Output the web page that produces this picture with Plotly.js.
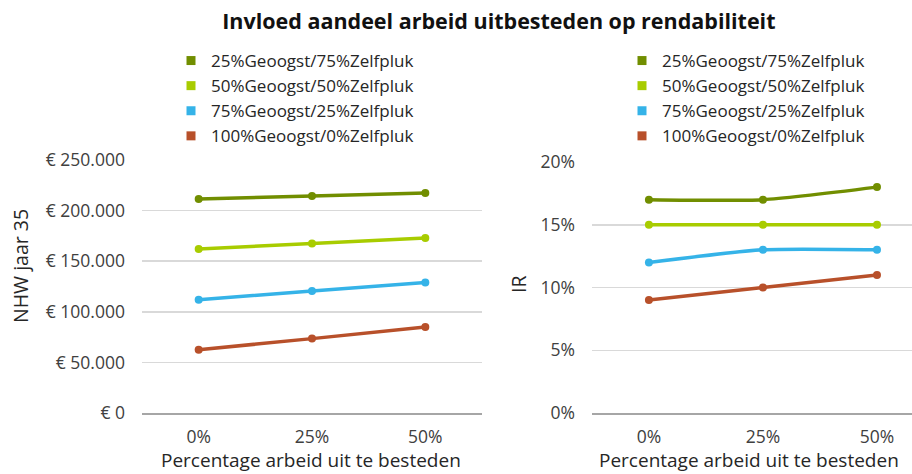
<!DOCTYPE html>
<html><head><meta charset="utf-8">
<script src="https://cdn.plot.ly/plotly-3.0.1.min.js"></script>
<style>body{margin:0;background:#fff}#c{width:912px;height:474px}</style>
</head><body><div id="c"></div>
<script>
const categories = ['0%', '25%', '50%'];
const seriesNames = ['25%Geoogst/75%Zelfpluk', '50%Geoogst/50%Zelfpluk', '75%Geoogst/25%Zelfpluk', '100%Geoogst/0%Zelfpluk'];
const colors = ['#718e00', '#a8cc00', '#35b3e8', '#b8502a'];
const nhw25 = [211500, 214500, 217500];
const nhw50 = [162000, 167500, 173000];
const nhw75 = [112000, 120500, 129000];
const nhw100 = [62500, 73500, 85000];
const ir25 = [0.17, 0.17, 0.18];
const ir50 = [0.15, 0.15, 0.15];
const ir75 = [0.12, 0.13, 0.13];
const ir100 = [0.09, 0.10, 0.11];
const nhwTickVals = [0, 50000, 100000, 150000, 200000, 250000];
const nhwTickText = ['€ 0', '€ 50.000', '€ 100.000', '€ 150.000', '€ 200.000', '€ 250.000'];
const irTickVals = [0, 0.05, 0.10, 0.15, 0.20];
const irTickText = ['0%', '5%', '10%', '15%', '20%'];
const title = 'Invloed aandeel arbeid uitbesteden op rendabiliteit';
const xTitle = 'Percentage arbeid uit te besteden';
const yTitleLeft = 'NHW jaar 35';
const yTitleRight = 'IR';

const nhw = [nhw25, nhw50, nhw75, nhw100];
const ir = [ir25, ir50, ir75, ir100];
const FONT = 'Open Sans, sans-serif';
const traces = [];
nhw.forEach((v, i) => traces.push({x: categories, y: v, xaxis: 'x', yaxis: 'y', mode: 'lines+markers',
  line: {color: colors[i], width: 3.5, shape: 'spline', smoothing: 0.6}, marker: {color: colors[i], size: 8}, showlegend: false, hoverinfo: 'y'}));
ir.forEach((v, i) => traces.push({x: categories, y: v, xaxis: 'x2', yaxis: 'y2', mode: 'lines+markers',
  line: {color: colors[i], width: 3.5, shape: 'spline', smoothing: 0.6}, marker: {color: colors[i], size: 8}, showlegend: false, hoverinfo: 'y'}));
seriesNames.forEach((n, i) => {
  traces.push({x: [null], y: [null], xaxis: 'x', yaxis: 'y', name: n, mode: 'markers', legend: 'legend',
    marker: {symbol: 'square', color: colors[i], size: 9}});
  traces.push({x: [null], y: [null], xaxis: 'x2', yaxis: 'y2', name: n, mode: 'markers', legend: 'legend2',
    marker: {symbol: 'square', color: colors[i], size: 9}});
});

const axFont = {family: FONT, size: 17.5, color: '#404040'};
const xax = (dom) => ({domain: dom, type: 'category', range: [-0.5, 2.5], showgrid: false, showline: true,
  linecolor: '#a6a6a6', linewidth: 1.5, tickfont: axFont, ticks: '', ticklabelstandoff: 7, fixedrange: true});
const legFont = {family: FONT, size: 17, color: '#262626'};
const layout = {
  width: 912, height: 474, margin: {l: 0, r: 0, t: 160, b: 61},
  paper_bgcolor: '#fff', plot_bgcolor: '#fff',
  title: {text: '<b>' + title + '</b>', x: 0.547, xanchor: 'center', y: 0.955, yanchor: 'middle', font: {family: FONT, size: 21.5, color: '#111'}},
  xaxis: xax([0.1557, 0.5285]),
  xaxis2: Object.assign(xax([0.649, 1]), {range: [-0.5, 2.307]}),
  yaxis: {domain: [0, 1], range: [0, 250000], tickvals: nhwTickVals, ticktext: nhwTickText, tickfont: axFont,
    showgrid: true, gridcolor: '#d9d9d9', gridwidth: 1.5, zeroline: false, ticks: '', ticklabelstandoff: 16},
  yaxis2: {domain: [0, 0.992], range: [0, 0.20], tickvals: irTickVals, ticktext: irTickText, tickfont: axFont, anchor: 'x2',
    showgrid: true, gridcolor: '#d9d9d9', gridwidth: 1.5, zeroline: false, ticks: '', ticklabelstandoff: 16},
  legend: {x: 171/912, xanchor: 'left', y: 1 - 43/474, yref: 'container', yanchor: 'top', bgcolor: 'rgba(0,0,0,0)',
    font: legFont, tracegroupgap: 0, itemwidth: 30},
  legend2: {x: 622/912, xanchor: 'left', y: 1 - 43/474, yref: 'container', yanchor: 'top', bgcolor: 'rgba(0,0,0,0)',
    font: legFont, tracegroupgap: 0, itemwidth: 30},
  annotations: [
    {text: xTitle, xref: 'paper', yref: 'paper', x: 311/912, y: -(460 - 413) / 253, xanchor: 'center', yanchor: 'middle', showarrow: false, font: {family: FONT, size: 19, color: '#262626'}},
    {text: xTitle, xref: 'paper', yref: 'paper', x: 597/912, y: -(460 - 413) / 253, xanchor: 'left', yanchor: 'middle', showarrow: false, font: {family: FONT, size: 19, color: '#262626'}},
    {text: yTitleLeft, xref: 'paper', yref: 'paper', x: 20/912, y: (413 - 266) / 253, xanchor: 'center', yanchor: 'middle', textangle: -90, showarrow: false, font: {family: FONT, size: 19.5, color: '#262626'}},
    {text: yTitleRight, xref: 'paper', yref: 'paper', x: 518/912, y: (413 - 285) / 253, xanchor: 'center', yanchor: 'middle', textangle: -90, showarrow: false, font: {family: FONT, size: 19.5, color: '#262626'}}
  ]
};
Plotly.newPlot('c', traces, layout, {displayModeBar: false, staticPlot: true});
</script></body></html>
